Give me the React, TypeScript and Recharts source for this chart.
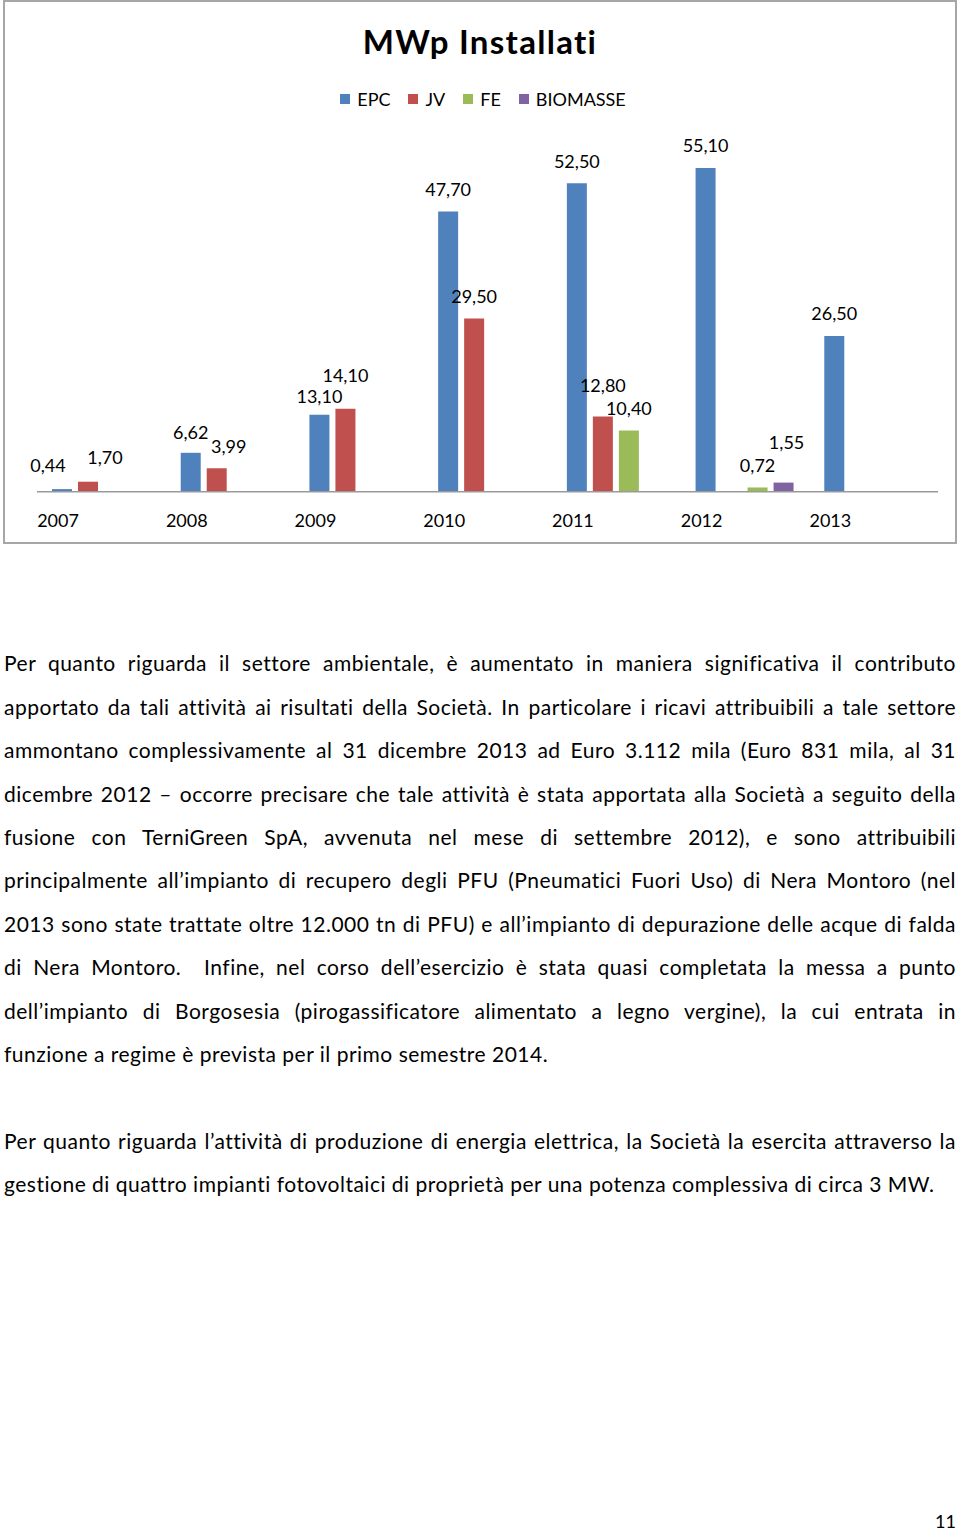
import React from 'react';
import { BarChart, Bar, XAxis, YAxis, LabelList } from 'recharts';

// Anni (categorie)
const years = ['2007', '2008', '2009', '2010', '2011', '2012', '2013'];

// MWp installati per linea di business
const epc = [0.44, 6.62, 13.1, 47.7, 52.5, 55.1, 26.5];
const jv = [1.7, 3.99, 14.1, 29.5, 12.8, null, null];
const fe = [null, null, null, null, 10.4, 0.72, null];
const biomasse = [null, null, null, null, null, 1.55, null];

const series = [
  { key: 'EPC', color: '#4F81BD' },
  { key: 'JV', color: '#C0504D' },
  { key: 'FE', color: '#9BBB59' },
  { key: 'BIOMASSE', color: '#8064A2' },
];

const data = years.map((year, i) => ({
  year,
  EPC: epc[i],
  JV: jv[i],
  FE: fe[i],
  BIOMASSE: biomasse[i],
}));

// small label shifts, like Excel did to avoid overlaps
const labelNudge: Record<string, [number, number]> = {
  'EPC-0.44': [-14, -1.5],
  'JV-1.7': [17, -2],
  'EPC-6.62': [0, 1.5],
  'JV-3.99': [12, 0],
  'EPC-13.1': [0, 4],
  'JV-14.1': [0, -11],
  'JV-12.8': [0, -9],
  'BIOMASSE-1.55': [3, -18],
};

const FONT = 'Lato, "Noto Sans", sans-serif';

const fmt = (v: number) => v.toFixed(2).replace('.', ',');

const makeLabel = (key: string) => (props: any) => {
  const { x, y, width, value } = props;
  if (value === null || value === undefined) return null;
  const [dx, dy] = labelNudge[`${key}-${value}`] ?? [0, 0];
  return (
    <text
      x={Number(x) + Number(width) / 2 + dx}
      y={Number(y) - 15.7 + dy}
      textAnchor="middle"
      fontSize={18}
      fontFamily={FONT}
      fill="#000"
    >
      {fmt(Number(value))}
    </text>
  );
};

const YearTick = (props: any) => {
  const { x, y, payload } = props;
  return (
    <text x={x - 43.3} y={y + 35} textAnchor="middle" fontSize={18} fontFamily={FONT} fill="#000">
      {payload.value}
    </text>
  );
};

const para1 = [
  'Per quanto riguarda il settore ambientale, è aumentato in maniera significativa il contributo',
  'apportato da tali attività ai risultati della Società. In particolare i ricavi attribuibili a tale settore',
  'ammontano complessivamente al 31 dicembre 2013 ad Euro 3.112 mila (Euro 831 mila, al 31',
  'dicembre 2012 – occorre precisare che tale attività è stata apportata alla Società a seguito della',
  'fusione con TerniGreen SpA, avvenuta nel mese di settembre 2012), e sono attribuibili',
  'principalmente all’impianto di recupero degli PFU (Pneumatici Fuori Uso) di Nera Montoro (nel',
  '2013 sono state trattate oltre 12.000 tn di PFU) e all’impianto di depurazione delle acque di falda',
  'di Nera Montoro.  Infine, nel corso dell’esercizio è stata quasi completata la messa a punto',
  'dell’impianto di Borgosesia (pirogassificatore alimentato a legno vergine), la cui entrata in',
  'funzione a regime è prevista per il primo semestre 2014.',
];

const para2 = [
  'Per quanto riguarda l’attività di produzione di energia elettrica, la Società la esercita attraverso la',
  'gestione di quattro impianti fotovoltaici di proprietà per una potenza complessiva di circa 3 MW.',
];

const Paragraph = ({ lines, top }: { lines: string[]; top: number }) => (
  <div
    style={{
      position: 'absolute',
      left: 4,
      top,
      width: 952,
      fontFamily: FONT,
      fontSize: 21,
      letterSpacing: '0.5px',
      lineHeight: '43.4px',
      color: '#000',
    }}
  >
    {lines.map((line, i) => (
      <div
        key={i}
        style={{
          textAlign: 'justify',
          textAlignLast: i === lines.length - 1 ? 'left' : 'justify',
          whiteSpace: 'pre-wrap',
        }}
      >
        {line}
      </div>
    ))}
  </div>
);

export default function App() {
  return (
    <div style={{ position: 'absolute', left: 0, top: 0, width: 960, height: 1531, background: '#fff', overflow: 'hidden' }}>
      {/* chart frame */}
      <div
        style={{
          position: 'absolute',
          left: 3,
          top: 0,
          width: 954,
          height: 544,
          boxSizing: 'border-box',
          border: '2px solid #a6a6a6',
        }}
      />
      <svg width={960} height={80} style={{ position: 'absolute', left: 0, top: 0 }}>
        <text
          x={480}
          y={54}
          textAnchor="middle"
          fontSize={33}
          fontWeight={700}
          fontFamily={FONT}
          letterSpacing={1.3}
          fill="#000"
        >
          MWp Installati
        </text>
      </svg>
      {/* legend */}
      <div
        style={{
          position: 'absolute',
          left: 0,
          top: 88,
          width: 966,
          display: 'flex',
          justifyContent: 'center',
          gap: 18,
          fontFamily: FONT,
          fontSize: 18,
          lineHeight: '22px',
          color: '#000',
        }}
      >
        {series.map((s) => (
          <div key={s.key} style={{ display: 'flex', alignItems: 'center', gap: 7 }}>
            <span style={{ width: 10, height: 10, background: s.color, display: 'inline-block' }} />
            <span>{s.key}</span>
          </div>
        ))}
      </div>
      <div style={{ position: 'absolute', left: 0, top: 0 }}>
        <BarChart
          width={960}
          height={544}
          data={data}
          margin={{ top: 139.2, right: 22, left: 37, bottom: 12.3 }}
          barSize={20}
          barGap={6}
        >
          <XAxis
            dataKey="year"
            height={40}
            tickLine={false}
            tickSize={0}
            tickMargin={0}
            axisLine={{ stroke: '#9a9a9a', strokeWidth: 1.5 }}
            tick={<YearTick />}
            interval={0}
          />
          <YAxis hide width={0} domain={[0, 60]} />
          {series.map((s) => (
            <Bar key={s.key} dataKey={s.key} fill={s.color} isAnimationActive={false}>
              <LabelList dataKey={s.key} content={makeLabel(s.key)} />
            </Bar>
          ))}
        </BarChart>
      </div>
      <Paragraph lines={para1} top={641.3} />
      <Paragraph lines={para2} top={1118.7} />
      <svg width={960} height={40} style={{ position: 'absolute', left: 0, top: 1500 }}>
        <text x={956} y={27.5} textAnchor="end" fontSize={18} fontFamily={FONT} fill="#000">
          11
        </text>
      </svg>
    </div>
  );
}
